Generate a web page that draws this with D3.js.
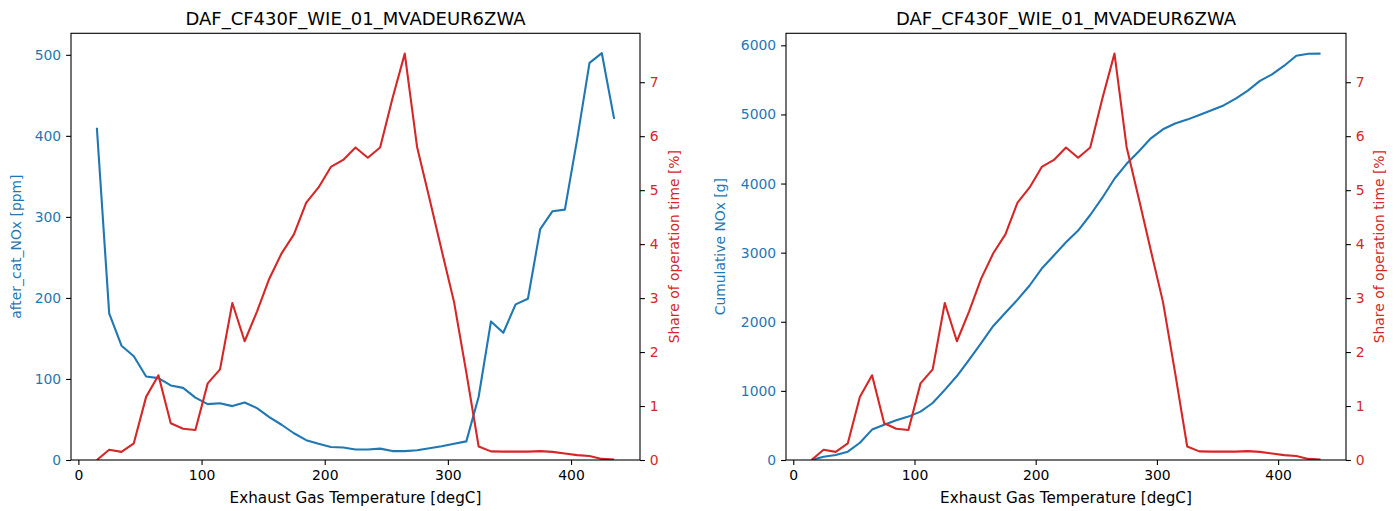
<!DOCTYPE html>
<html><head><meta charset="utf-8">
<script src="https://cdn.jsdelivr.net/npm/d3@7"></script>
<style>
body{margin:0;background:#fff;}
svg text{font-family:"DejaVu Sans",sans-serif;}
</style></head><body>
<svg id="c" width="1397" height="511"></svg>
<script>
const temps = [15,25,35,45,55,65,75,85,95,105,115,125,135,145,155,165,175,185,195,205,215,225,235,245,255,265,275,285,295,305,315,325,335,345,355,365,375,385,395,405,415,425,435];
const afterCatNOx = [410,181,141,128,103,101,92,89,77,69,70,66.5,71,64,53,43.5,33,24.5,20,16,15.5,13,13,14,11,11,12,14.5,17,20,23,78,171,157,192,199,285,307,309,396,490,502,421];
const shareTime = [0,0.19,0.15,0.31,1.17,1.57,0.68,0.58,0.555,1.42,1.68,2.91,2.2,2.75,3.36,3.83,4.18,4.77,5.05,5.43,5.56,5.79,5.6,5.79,6.7,7.53,5.8,4.85,3.88,2.93,1.62,0.25,0.16,0.155,0.155,0.155,0.165,0.15,0.12,0.09,0.075,0.02,0.01];
const cumNOx = [0,48,72,120,250,440,510,575,628,700,825,1015,1215,1450,1690,1940,2130,2320,2525,2770,2960,3150,3320,3545,3795,4070,4285,4465,4655,4785,4868,4925,4992,5060,5130,5230,5345,5485,5580,5705,5850,5878,5880];
const xTicks = [0,100,200,300,400];
const ppmTicks = [0,100,200,300,400,500];
const shareTicks = [0,1,2,3,4,5,6,7];
const cumTicks = [0,1000,2000,3000,4000,5000,6000];
const title = "DAF_CF430F_WIE_01_MVADEUR6ZWA";
const xLabel = "Exhaust Gas Temperature [degC]";

const BLUE = "#1f77b4", RED = "#d62728";
const svg = d3.select("#c");

function panel(opts){
  const {x0,x1,y0,y1,leftVals,leftTicks,leftLabel,leftLabelX,rightLabelX} = opts;
  const g = svg.append("g");
  const xs = d3.scaleLinear().domain([-6,456]).range([x0,x1]);
  const lmax = d3.max(leftVals), lmin = d3.min(leftVals);
  const yl = d3.scaleLinear().domain([0, lmax + 0.05*(lmax-lmin)]).range([y1,y0]);
  const smax = d3.max(shareTime), smin = d3.min(shareTime);
  const yr = d3.scaleLinear().domain([0, smax + 0.05*(smax-smin)]).range([y1,y0]);

  const clip = "clip"+x0;
  svg.append("clipPath").attr("id",clip).append("rect").attr("x",x0).attr("y",y0).attr("width",x1-x0).attr("height",y1-y0);
  g.append("path").datum(leftVals.map((v,i)=>[temps[i],v]))
    .attr("clip-path",`url(#${clip})`)
    .attr("fill","none").attr("stroke",BLUE).attr("stroke-width",2.1).attr("stroke-linejoin","round")
    .attr("d", d3.line().x(d=>xs(d[0])).y(d=>yl(d[1])));
  g.append("path").datum(shareTime.map((v,i)=>[temps[i],v]))
    .attr("clip-path",`url(#${clip})`)
    .attr("fill","none").attr("stroke",RED).attr("stroke-width",2.1).attr("stroke-linejoin","round")
    .attr("d", d3.line().x(d=>xs(d[0])).y(d=>yr(d[1])));

  const styleAxis = (sel,color)=>{
    sel.select(".domain").remove();
    sel.selectAll(".tick line").attr("stroke","#000").attr("stroke-width",1.1);
    sel.selectAll(".tick text").attr("fill",color).style("font-size","13.9px").style("font-family","DejaVu Sans");
  };
  g.append("g").attr("transform",`translate(0,${y1})`)
    .call(d3.axisBottom(xs).tickValues(xTicks).tickSize(4.9).tickPadding(4.9).tickFormat(d3.format("d")))
    .call(s=>styleAxis(s,"#000"));
  g.append("g").attr("transform",`translate(${x0},0)`)
    .call(d3.axisLeft(yl).tickValues(leftTicks).tickSize(4.9).tickPadding(4.9).tickFormat(d3.format("d")))
    .call(s=>styleAxis(s,BLUE));
  g.append("g").attr("transform",`translate(${x1},0)`)
    .call(d3.axisRight(yr).tickValues(shareTicks).tickSize(4.9).tickPadding(4.9).tickFormat(d3.format("d")))
    .call(s=>styleAxis(s,RED));

  g.append("rect").attr("x",x0).attr("y",y0).attr("width",x1-x0).attr("height",y1-y0)
    .attr("fill","none").attr("stroke","#000").attr("stroke-width",1.1);

  g.append("text").attr("x",(x0+x1)/2).attr("y",y0-8.3).attr("text-anchor","middle")
    .style("font-size","18px").attr("fill","#000").text(title);
  g.append("text").attr("x",(x0+x1)/2).attr("y",y1+43).attr("text-anchor","middle")
    .style("font-size","15.2px").attr("fill","#000").text(xLabel);
  g.append("text").attr("transform",`translate(${leftLabelX},${(y0+y1)/2}) rotate(-90)`)
    .attr("text-anchor","middle").attr("dominant-baseline","central")
    .style("font-size","13.9px").attr("fill",BLUE).text(leftLabel);
  g.append("text").attr("transform",`translate(${rightLabelX},${(y0+y1)/2}) rotate(-90)`)
    .attr("text-anchor","middle").attr("dominant-baseline","central")
    .style("font-size","13.9px").attr("fill",RED).text("Share of operation time [%]");
}

panel({x0:71,x1:640,y0:33.3,y1:460,leftVals:afterCatNOx,leftTicks:ppmTicks,leftLabel:"after_cat_NOx [ppm]",leftLabelX:16,rightLabelX:674});
panel({x0:786,x1:1346,y0:33.3,y1:460,leftVals:cumNOx,leftTicks:cumTicks,leftLabel:"Cumulative NOx [g]",leftLabelX:720,rightLabelX:1379});
</script>
</body></html>
